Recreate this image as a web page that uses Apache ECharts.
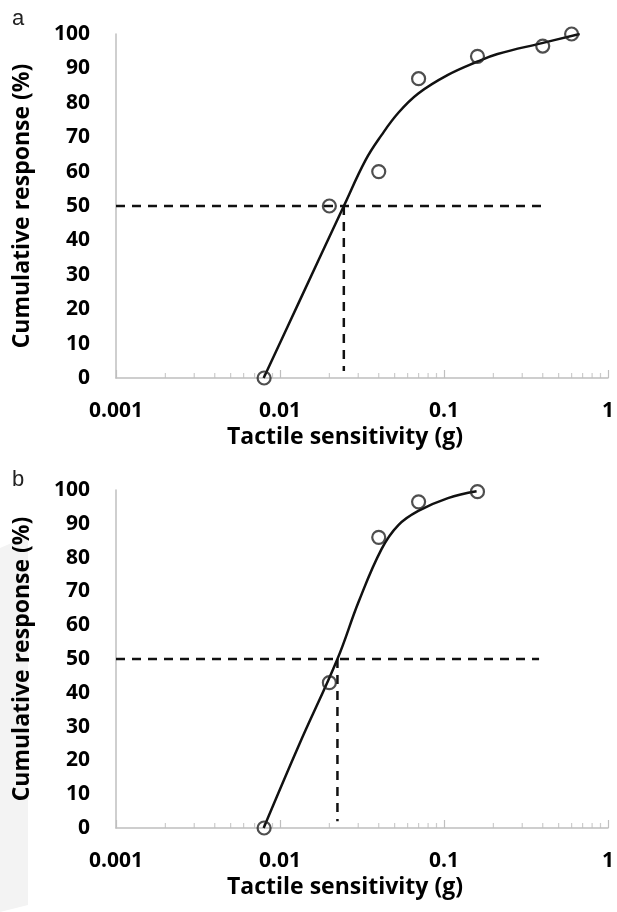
<!DOCTYPE html>
<html>
<head>
<meta charset="utf-8">
<script src="https://cdn.jsdelivr.net/npm/echarts@6/dist/echarts.min.js"></script>
<style>
  html, body { margin: 0; padding: 0; background: #fff; }
  #main { width: 617px; height: 912px; }
</style>
</head>
<body>
<div id="main"></div>
<script>
// panel a: observed points and fitted curve
var aDotsX = [0.008, 0.02, 0.04, 0.07, 0.16, 0.4, 0.6];
var aDotsY = [0, 50, 60, 87, 93.5, 96.5, 100];
var aFitX = [0.00795, 0.0131, 0.0245, 0.0333, 0.0416, 0.0527, 0.0697, 0.1057, 0.1605, 0.212, 0.396, 0.672];
var aFitY = [0, 22.2, 50, 63.4, 70.6, 77.1, 82.7, 88.1, 92, 94.2, 97.35, 100];
var aMedian = 0.0245;
var aGuideEnd = 0.4;

// panel b
var bDotsX = [0.008, 0.02, 0.04, 0.07, 0.16];
var bDotsY = [0, 43, 86, 96.5, 99.5];
var bFitX = [0.00795, 0.0131, 0.0224, 0.0302, 0.0416, 0.0527, 0.0697, 0.1057, 0.158];
var bFitY = [0, 24.7, 50, 67, 82.5, 89.6, 93.8, 97.6, 99.6];
var bMedian = 0.0224;
var bGuideEnd = 0.38;

// minor log ticks 2..9 in each decade
var minorTicks = [0.002, 0.003, 0.004, 0.005, 0.006, 0.007, 0.008, 0.009,
                  0.02, 0.03, 0.04, 0.05, 0.06, 0.07, 0.08, 0.09,
                  0.2, 0.3, 0.4, 0.5, 0.6, 0.7, 0.8, 0.9];

var xName = 'Tactile sensitivity (g)';
var yName = 'Cumulative response (%)';

var myChart = echarts.init(document.getElementById('main'));

function pairs(xs, ys) {
    var out = [];
    for (var i = 0; i < xs.length; i++) out.push([xs[i], ys[i]]);
    return out;
}

var font = 'Open Sans';
var grey = '#bfbfbf';

function xAxisFor(idx) {
    return {
        gridIndex: idx,
        type: 'log',
        logBase: 10,
        min: 0.001,
        max: 1,
        name: xName,
        nameLocation: 'middle',
        nameGap: 48,
        nameTextStyle: { fontFamily: font, fontWeight: 'bold', fontSize: 23, color: '#000', padding: [0, 34, 0, 0] },
        axisLine: { lineStyle: { color: grey, width: 1.5 } },
        axisTick: { show: true, inside: true, length: 8, lineStyle: { color: grey, width: 1.2 } },
        axisLabel: { fontFamily: font, fontWeight: 'bold', fontSize: 21, color: '#000', margin: 23 },
        splitLine: { show: false }
    };
}

function yAxisFor(idx) {
    return {
        gridIndex: idx,
        type: 'value',
        min: 0,
        max: 100,
        interval: 10,
        name: yName,
        nameLocation: 'middle',
        nameGap: 82,
        nameRotate: 90,
        nameTextStyle: { fontFamily: font, fontWeight: 'bold', fontSize: 23, color: '#000' },
        axisLine: { show: true, lineStyle: { color: grey, width: 1.5 } },
        axisTick: { show: false },
        axisLabel: { fontFamily: font, fontWeight: 'bold', fontSize: 21, color: '#000', margin: 26 },
        splitLine: { show: false }
    };
}

function panelSeries(idx, dotsX, dotsY, fitX, fitY, median, guideEnd) {
    var dash = { color: '#111', width: 2.5, type: [9, 7] };
    return [
        {
            type: 'scatter', xAxisIndex: idx, yAxisIndex: idx, silent: true,
            symbol: 'rect', symbolSize: [1.2, 5], symbolOffset: [0, -2.5],
            itemStyle: { color: grey },
            data: minorTicks.map(function (v) { return [v, 0]; }),
            z: 1
        },
        {
            type: 'line', xAxisIndex: idx, yAxisIndex: idx, silent: true,
            symbol: 'none', lineStyle: dash,
            data: [[0.001, 50], [guideEnd, 50]]
        },
        {
            type: 'line', xAxisIndex: idx, yAxisIndex: idx, silent: true,
            symbol: 'none', lineStyle: dash,
            data: [[median, 50], [median, 2]]
        },
        {
            type: 'line', xAxisIndex: idx, yAxisIndex: idx, silent: true,
            symbol: 'none', smooth: 0.4,
            lineStyle: { color: '#111', width: 2.5 },
            data: pairs(fitX, fitY)
        },
        {
            type: 'scatter', xAxisIndex: idx, yAxisIndex: idx, silent: true,
            symbol: 'circle', symbolSize: 13,
            itemStyle: { color: 'rgba(0,0,0,0)', borderColor: '#222', borderWidth: 2.2 },
            data: pairs(dotsX, dotsY),
            z: 5
        }
    ];
}

var option = {
    backgroundColor: '#fff',
    animation: false,
    textStyle: { fontFamily: font },
    graphic: [
        { type: 'polygon', shape: { points: [[0, 548], [28, 536], [28, 905], [0, 912]] }, style: { fill: '#f3f3f3' }, z: -10 },
        { type: 'text', left: 12, top: 8, style: { text: 'a', fontFamily: 'Liberation Sans', fontSize: 22, fill: '#222' } },
        { type: 'text', left: 12, top: 469, style: { text: 'b', fontFamily: 'Liberation Sans', fontSize: 22, fill: '#222' } }
    ],
    grid: [
        { left: 116, right: 5, top: 34, height: 344 },
        { left: 116, right: 5, top: 490, height: 338 }
    ],
    xAxis: [xAxisFor(0), xAxisFor(1)],
    yAxis: [yAxisFor(0), yAxisFor(1)],
    series: panelSeries(0, aDotsX, aDotsY, aFitX, aFitY, aMedian, aGuideEnd)
        .concat(panelSeries(1, bDotsX, bDotsY, bFitX, bFitY, bMedian, bGuideEnd))
};

myChart.setOption(option);
</script>
</body>
</html>
